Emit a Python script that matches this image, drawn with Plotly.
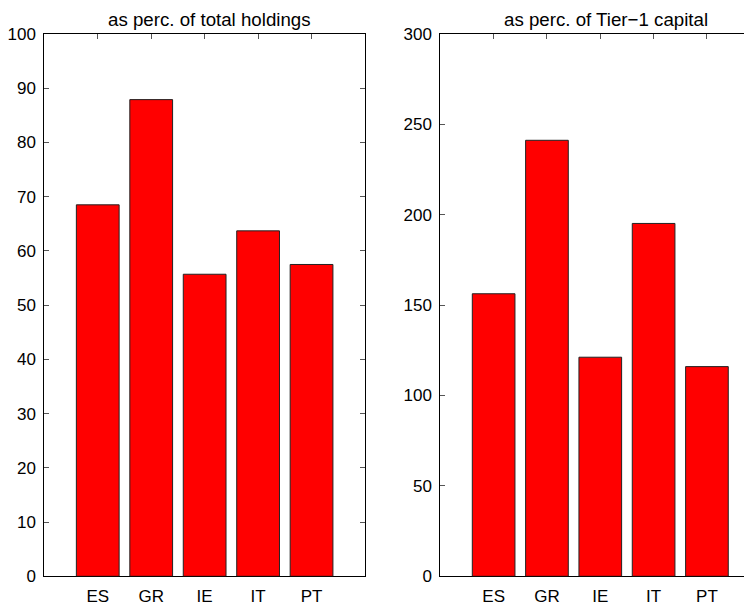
import plotly.graph_objects as go

countries = ['ES', 'GR', 'IE', 'IT', 'PT']
pct_total_holdings = [68.5, 87.9, 55.7, 63.7, 57.5]
pct_tier1_capital = [156.3, 241.2, 121.2, 195.2, 116.0]

left_ticks = [0, 10, 20, 30, 40, 50, 60, 70, 80, 90, 100]
right_ticks = [0, 50, 100, 150, 200, 250, 300]

W, H = 752, 607
FONT = 'Liberation Sans, Arial, Helvetica, sans-serif'

fig = go.Figure()

bar_style = dict(marker_color='#ff0000',
                 marker_line=dict(color='#222222', width=1),
                 width=0.8, showlegend=False, hoverinfo='x+y')

fig.add_trace(go.Bar(x=countries, y=pct_total_holdings, xaxis='x', yaxis='y', **bar_style))
fig.add_trace(go.Bar(x=countries, y=pct_tier1_capital, xaxis='x2', yaxis='y2', **bar_style))

# subplot boxes in figure pixels (page is drawn 8px in from the window corner)
ydom = [(H - 568.3) / H, (H - 26) / H]
axis_common = dict(showline=True, linecolor='black', linewidth=1,
                   ticks='inside', ticklen=5, tickcolor='#555555',
                   showgrid=False, zeroline=False, automargin=False,
                   mirror='ticks',
                   tickfont=dict(family=FONT, size=17, color='black'))

fig.update_layout(
    width=W, height=H,
    margin=dict(l=0, r=0, t=0, b=0),
    plot_bgcolor='white', paper_bgcolor='white',
    font=dict(family=FONT, size=17, color='black'),
    xaxis=dict(domain=[36.3 / W, 357 / W], range=[-1, 5], anchor='y',
               layer='below traces', ticklabelstandoff=4, **axis_common),
    yaxis=dict(domain=ydom, range=[0, 100], tickvals=left_ticks, anchor='x',
               ticklabelstandoff=4, **axis_common),
    xaxis2=dict(domain=[432.3 / W, 1.0], range=[-1, 4.995], anchor='y2',
                layer='below traces', ticklabelstandoff=4, **axis_common),
    yaxis2=dict(domain=ydom, range=[0, 300], tickvals=right_ticks, anchor='x2',
                ticklabelstandoff=4, **axis_common),
    annotations=[
        dict(text='as perc. of total holdings', x=201.2 / W, y=(H - 11) / H,
             xref='paper', yref='paper', xanchor='center', yanchor='middle',
             showarrow=False, font=dict(family=FONT, size=18.7, color='black')),
        dict(text='as perc. of Tier\u22121 capital', x=598 / W, y=(H - 11) / H,
             xref='paper', yref='paper', xanchor='center', yanchor='middle',
             showarrow=False, font=dict(family=FONT, size=18.7, color='black')),
    ],
)

fig.write_html('out.html')
